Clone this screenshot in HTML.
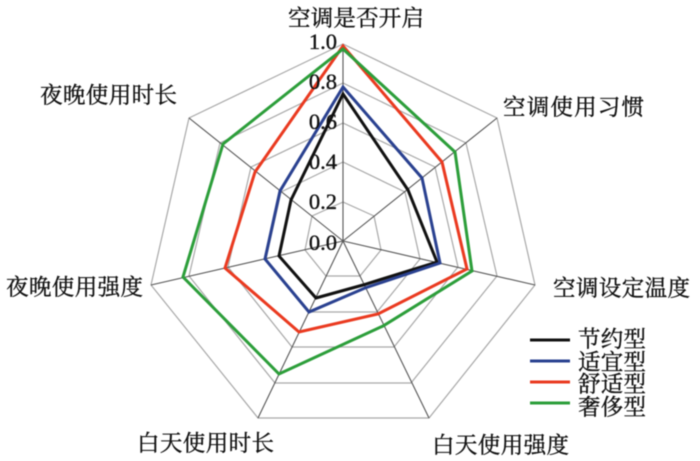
<!DOCTYPE html>
<html><head><meta charset="utf-8">
<style>html,body{margin:0;padding:0;background:#fff}svg{display:block}
text{font-family:"Liberation Serif","Noto Serif CJK SC",serif;fill:#111;stroke:#111;stroke-width:.35px}
.c{font-size:22.5px}</style></head>
<body>
<svg width="700" height="461" viewBox="0 0 700 461" xmlns="http://www.w3.org/2000/svg">
<g style="filter:blur(.4px)">
<g fill="none" stroke="#a8a8a8" stroke-width="1.2">
<polygon points="343,44 497,118 535,285 429,418 258,418 151,285 189,118"/>
<polygon points="343,83 466,143 497,276 411,383 275,383 189,276 220,143"/>
<polygon points="343,123 435,167 458,267 394,347 292,347 228,267 251,167"/>
<polygon points="343,162 405,192 420,259 377,312 309,312 266,259 281,192"/>
<polygon points="343,202 374,216 381,250 360,276 326,276 305,250 312,216"/>
</g>
<g stroke="#555" stroke-width="1.1">
<line x1="343" y1="241" x2="343" y2="44"/><line x1="343" y1="241" x2="497" y2="118"/>
<line x1="343" y1="241" x2="535" y2="285"/><line x1="343" y1="241" x2="429" y2="418"/>
<line x1="343" y1="241" x2="258" y2="418"/><line x1="343" y1="241" x2="151" y2="285"/>
<line x1="343" y1="241" x2="189" y2="118"/>
</g>
<g fill="none" stroke-width="3" stroke-linejoin="miter">
<polygon stroke="#111" points="343,94 408,190 437,262 363,285 316,298 279,256 291,200"/>
<polygon stroke="#2a4190" points="343,87 422,178 440,263 365,288 309,312 265,259 280,191"/>
<polygon stroke="#ea3a20" points="343,46 442,162 467,269 378,314 299,332 225,268 255,172"/>
<polygon stroke="#2c9e3a" points="343,49 455,152 472,271 383,326 279,374 183,277 223,144"/>
</g>
<g font-size="22.5" text-anchor="end">
<text x="337" y="49">1.0</text><text x="337" y="89">0.8</text><text x="337" y="129">0.6</text>
<text x="337" y="169">0.4</text><text x="337" y="209">0.2</text><text x="337" y="250">0.0</text>
</g>
<g class="c">
<text class="c" x="288" y="26" textLength="136">空调是否开启</text>
<text class="c" x="503" y="115" textLength="141">空调使用习惯</text>
<text class="c" x="553" y="296" textLength="137">空调设定温度</text>
<text class="c" x="432" y="453" textLength="137">白天使用强度</text>
<text class="c" x="137" y="451" textLength="137">白天使用时长</text>
<text class="c" x="6" y="295" textLength="137">夜晚使用强度</text>
<text class="c" x="40" y="103" textLength="137">夜晚使用时长</text>
<text class="c" x="578" y="347" textLength="68">节约型</text>
<text class="c" x="578" y="370" textLength="68">适宜型</text>
<text class="c" x="578" y="392" textLength="68">舒适型</text>
<text class="c" x="578" y="415" textLength="68">奢侈型</text>
</g>
<g stroke-width="3">
<line x1="530" y1="340" x2="570" y2="340" stroke="#111"/>
<line x1="530" y1="361" x2="570" y2="361" stroke="#2a4190"/>
<line x1="530" y1="382" x2="570" y2="382" stroke="#ea3a20"/>
<line x1="530" y1="403" x2="570" y2="403" stroke="#2c9e3a"/>
</g>
</g>
</svg>
</body></html>
